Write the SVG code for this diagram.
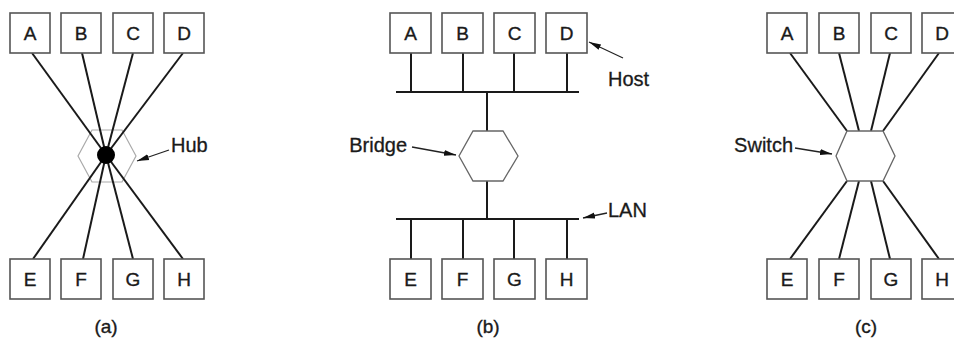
<svg xmlns="http://www.w3.org/2000/svg" width="954" height="340" viewBox="0 0 954 340">
<style>
.box{fill:#fff;stroke:#555;stroke-width:1.6}
.lt{font-family:"Liberation Sans",Arial,sans-serif;font-size:19px;fill:#1a1a1a;stroke:#1a1a1a;stroke-width:0.35;text-anchor:middle}
.lbl{font-family:"Liberation Sans",Arial,sans-serif;font-size:20px;fill:#1a1a1a;stroke:#1a1a1a;stroke-width:0.3}
.wire{stroke:#1a1a1a;stroke-width:2;fill:none;stroke-linecap:butt}
.ptr{stroke:#222;stroke-width:1.3;fill:none;marker-end:url(#ah)}
.hexa{fill:#fff;stroke:#aaa;stroke-width:1.2}
.hex{fill:#fff;stroke:#666;stroke-width:1.3}
</style>
<defs>
<marker id="ah" viewBox="0 0 12 8" refX="12" refY="4" markerWidth="12" markerHeight="8" markerUnits="userSpaceOnUse" orient="auto">
<path d="M0,1 L12,4 L0,7 Z" fill="#111"/>
</marker>
</defs>
<rect width="954" height="340" fill="#fff"/>

<!-- Panel (a) -->
<g id="hub">
<polygon class="hexa" points="92,130 122,130 136,156 122,182 92,182 78,156"/>
</g>
<g id="connectors-a">
<line class="wire" x1="32" y1="53" x2="106" y2="155"/>
<line class="wire" x1="82" y1="53" x2="106" y2="155"/>
<line class="wire" x1="133" y1="53" x2="106" y2="155"/>
<line class="wire" x1="183" y1="53" x2="106" y2="155"/>
<line class="wire" x1="33" y1="259" x2="106" y2="155"/>
<line class="wire" x1="83" y1="259" x2="106" y2="155"/>
<line class="wire" x1="133" y1="259" x2="106" y2="155"/>
<line class="wire" x1="183" y1="259" x2="106" y2="155"/>
<line class="ptr" x1="169" y1="150" x2="137" y2="161"/>
</g>
<g id="hub-dot"><circle cx="106" cy="155" r="9" fill="#000"/></g>
<g id="a-A"><rect class="box" x="10" y="13" width="40" height="40"/><text class="lt" x="30" y="40">A</text></g>
<g id="a-B"><rect class="box" x="61" y="13" width="40" height="40"/><text class="lt" x="81" y="40">B</text></g>
<g id="a-C"><rect class="box" x="113" y="13" width="40" height="40"/><text class="lt" x="133" y="40">C</text></g>
<g id="a-D"><rect class="box" x="164" y="13" width="40" height="40"/><text class="lt" x="184" y="40">D</text></g>
<g id="a-E"><rect class="box" x="10" y="259" width="40" height="40"/><text class="lt" x="30" y="286">E</text></g>
<g id="a-F"><rect class="box" x="61" y="259" width="40" height="40"/><text class="lt" x="81" y="286">F</text></g>
<g id="a-G"><rect class="box" x="113" y="259" width="40" height="40"/><text class="lt" x="133" y="286">G</text></g>
<g id="a-H"><rect class="box" x="164" y="259" width="40" height="40"/><text class="lt" x="184" y="286">H</text></g>
<text class="lbl" x="171" y="152">Hub</text>
<text class="lt" x="106" y="333">(a)</text>

<!-- Panel (b) -->
<g id="connectors-b">
<line class="wire" x1="411" y1="53" x2="411" y2="92"/>
<line class="wire" x1="463" y1="53" x2="463" y2="92"/>
<line class="wire" x1="514" y1="53" x2="514" y2="92"/>
<line class="wire" x1="567" y1="53" x2="567" y2="92"/>
<line class="wire" x1="396" y1="92" x2="579" y2="92"/>
<line class="wire" x1="487" y1="92" x2="487" y2="131"/>
<line class="wire" x1="487" y1="181" x2="487" y2="219"/>
<line class="wire" x1="396" y1="219" x2="579" y2="219"/>
<line class="wire" x1="411" y1="219" x2="411" y2="259"/>
<line class="wire" x1="463" y1="219" x2="463" y2="259"/>
<line class="wire" x1="514" y1="219" x2="514" y2="259"/>
<line class="wire" x1="567" y1="219" x2="567" y2="259"/>
<line class="ptr" x1="623" y1="58" x2="589" y2="42"/>
<line class="ptr" x1="607" y1="213" x2="583" y2="218"/>
<line class="ptr" x1="412" y1="147" x2="456" y2="155"/>
</g>
<g id="bridge"><polygon class="hex" points="473,131 503,131 518,156 503,181 473,181 459,156"/></g>
<g id="b-A"><rect class="box" x="390" y="13" width="41" height="40"/><text class="lt" x="410.5" y="40">A</text></g>
<g id="b-B"><rect class="box" x="442" y="13" width="41" height="40"/><text class="lt" x="462.5" y="40">B</text></g>
<g id="b-C"><rect class="box" x="494" y="13" width="41" height="40"/><text class="lt" x="514.5" y="40">C</text></g>
<g id="b-D"><rect class="box" x="546" y="13" width="41" height="40"/><text class="lt" x="566.5" y="40">D</text></g>
<g id="b-E"><rect class="box" x="390" y="259" width="41" height="40"/><text class="lt" x="410.5" y="286">E</text></g>
<g id="b-F"><rect class="box" x="442" y="259" width="41" height="40"/><text class="lt" x="462.5" y="286">F</text></g>
<g id="b-G"><rect class="box" x="494" y="259" width="41" height="40"/><text class="lt" x="514.5" y="286">G</text></g>
<g id="b-H"><rect class="box" x="546" y="259" width="41" height="40"/><text class="lt" x="566.5" y="286">H</text></g>
<text class="lbl" x="608" y="86">Host</text>
<text class="lbl" x="608" y="217">LAN</text>
<text class="lbl" x="407" y="152" text-anchor="end">Bridge</text>
<text class="lt" x="488" y="333">(b)</text>

<!-- Panel (c) -->
<g id="connectors-c">
<line class="wire" x1="790" y1="53" x2="847" y2="131"/>
<line class="wire" x1="839" y1="53" x2="859" y2="131"/>
<line class="wire" x1="890" y1="53" x2="871" y2="131"/>
<line class="wire" x1="939" y1="53" x2="883" y2="131"/>
<line class="wire" x1="790" y1="259" x2="847" y2="181"/>
<line class="wire" x1="839" y1="259" x2="859" y2="181"/>
<line class="wire" x1="890" y1="259" x2="871" y2="181"/>
<line class="wire" x1="939" y1="259" x2="883" y2="181"/>
<line class="ptr" x1="795" y1="148" x2="832" y2="154"/>
</g>
<g id="switch"><polygon class="hex" points="847,131 883,131 895,156 883,181 847,181 836,156"/></g>
<g id="c-A"><rect class="box" x="767" y="13" width="40" height="40"/><text class="lt" x="787" y="40">A</text></g>
<g id="c-B"><rect class="box" x="819" y="13" width="40" height="40"/><text class="lt" x="839" y="40">B</text></g>
<g id="c-C"><rect class="box" x="871" y="13" width="40" height="40"/><text class="lt" x="891" y="40">C</text></g>
<g id="c-D"><rect class="box" x="922" y="13" width="40" height="40"/><text class="lt" x="942" y="40">D</text></g>
<g id="c-E"><rect class="box" x="767" y="259" width="40" height="40"/><text class="lt" x="787" y="286">E</text></g>
<g id="c-F"><rect class="box" x="819" y="259" width="40" height="40"/><text class="lt" x="839" y="286">F</text></g>
<g id="c-G"><rect class="box" x="871" y="259" width="40" height="40"/><text class="lt" x="891" y="286">G</text></g>
<g id="c-H"><rect class="box" x="922" y="259" width="40" height="40"/><text class="lt" x="942" y="286">H</text></g>
<text class="lbl" x="793" y="152" text-anchor="end">Switch</text>
<text class="lt" x="866" y="333">(c)</text>
</svg>
